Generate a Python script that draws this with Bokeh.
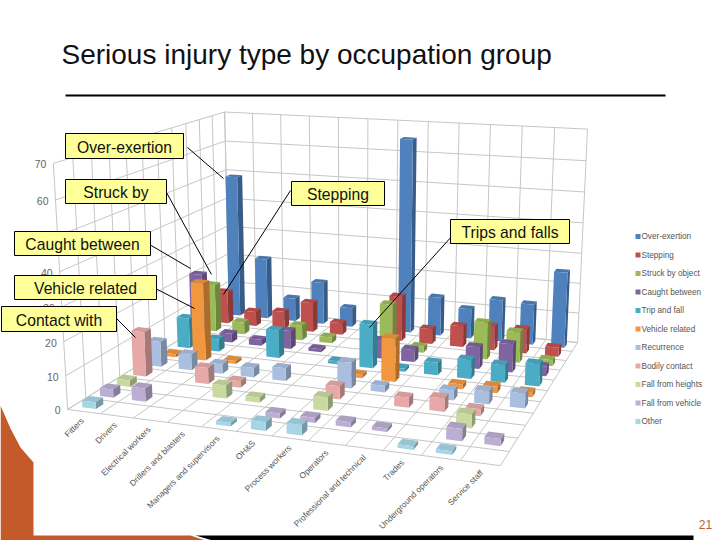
import numpy as np
from bokeh.plotting import figure
from bokeh.embed import file_html
from bokeh.resources import INLINE
from bokeh.core.properties import value

categories = ["Fitters", "Drivers", "Electrical workers", "Drillers and blasters",
              "Managers and supervisors", "OH&S", "Process workers", "Operators",
              "Professional and technical", "Trades", "Underground operators", "Service staff"]
series_names = ["Over-exertion", "Stepping", "Struck by object", "Caught between", "Trip and fall",
                "Vehicle related", "Recurrence", "Bodily contact", "Fall from heights",
                "Fall from vehicle", "Other"]
over_exertion = [49, 21, 8, 14.5, 6.5, 0, 65, 13, 10, 14, 13.5, 25]
stepping = [11, 5, 6, 10, 4, 0, 15, 5, 7, 8, 8, 3]
struck_by = [16, 4, 0, 5, 2, 0, 15, 2, 0, 12, 10, 2]
caught_between = [22, 3, 2, 6, 1, 0, 6, 4, 0, 7, 9, 3]
trip_fall = [10, 4, 0, 9, 0, 1, 14, 1, 4, 6, 5.5, 7]
vehicle_related = [1, 25, 1, 0, 0, 0, 1, 13.5, 0, 1.5, 2, 1.5]
recurrence = [8, 5, 3, 3, 4, 0, 8, 2, 0, 3, 4, 4.5]
bodily_contact = [14, 0, 5, 2, 0, 0, 4, 0, 3, 4, 2, 0]
fall_heights = [2, 0, 0, 4, 1.5, 0, 4, 0, 0, 0, 4, 0]
fall_vehicle = [2.5, 4, 0, 0, 0, 1.5, 1.5, 1.5, 1, 0, 3.5, 2]
other = [2, 0, 0, 0, 1, 2.5, 3, 0, 0, 1, 1, 0]
all_series = [over_exertion, stepping, struck_by, caught_between, trip_fall, vehicle_related,
              recurrence, bodily_contact, fall_heights, fall_vehicle, other]
colors = ["#4F81BD", "#C0504D", "#9BBB59", "#8064A2", "#4BACC6", "#F0973F",
          "#AABFDF", "#E6A9A8", "#C9DAA0", "#BBAED2", "#A6D5E6"]
z_ticks = [0, 10, 20, 30, 40, 50, 60, 70]

NC, NR, ZMAX = len(categories), len(series_names), z_ticks[-1]

# Camera calibration: cube corners -> page pixels
world = [(0, 0, 0), (NC, 0, 0), (0, NR, 0), (NC, NR, 0), (0, 0, ZMAX), (0, NR, ZMAX), (NC, NR, ZMAX)]
image = [(67, 408), (500, 466), (229, 309), (577, 341), (53, 163), (224, 111), (587, 129)]
A, b = [], []
for (X, Y, Z), (u, v) in zip(world, image):
    A.append([X, Y, Z, 1, 0, 0, 0, 0, -u * X, -u * Y, -u * Z]); b.append(u)
    A.append([0, 0, 0, 0, X, Y, Z, 1, -v * X, -v * Y, -v * Z]); b.append(v)
sol = np.linalg.lstsq(np.array(A, float), np.array(b, float), rcond=None)[0]
P = np.append(sol, 1.0).reshape(3, 4)


def proj(X, Y, Z):
    w = P @ np.array([X, Y, Z, 1.0])
    return float(w[0] / w[2]), float(w[1] / w[2])


def shade(c, f):
    r, g, bl = int(c[1:3], 16), int(c[3:5], 16), int(c[5:7], 16)
    return "#%02x%02x%02x" % (min(255, int(r * f)), min(255, int(g * f)), min(255, int(bl * f)))


p = figure(width=720, height=540, x_range=(0, 720), y_range=(540, 0),
           output_backend="svg", toolbar_location=None, min_border=0)
p.axis.visible = False
p.grid.visible = False
p.outline_line_color = None
p.background_fill_color = "white"
p.border_fill_color = "white"

# Slide decoration
p.patch([0, 10, 20, 33, 33, 190, 205, 0], [405, 428, 447, 462, 535, 535, 540, 540],
        fill_color="#C4592A", line_color=None)
p.patch([195, 693, 693, 212], [535, 535, 540, 540], fill_color="black", line_color=None)

# Title
p.text([61], [54], text=["Serious injury type by occupation group"], text_font=value("Liberation Sans"),
       text_font_size="28px", text_color="#111111", text_baseline="alphabetic")
p.line([65, 665], [95, 95], line_color="black", line_width=2)

# Grid
gx, gy = [], []


def seg(a, b):
    pa, pb = proj(*a), proj(*b)
    gx.append([pa[0], pb[0]])
    gy.append([pa[1], pb[1]])


for z in z_ticks:
    seg((0, 0, z), (0, NR, z))
    seg((0, NR, z), (NC, NR, z))
for c in range(NC + 1):
    seg((c, NR, 0), (c, NR, ZMAX))
    seg((c, 0, 0), (c, NR, 0))
for r in range(NR + 1):
    seg((0, r, 0), (0, r, ZMAX))
    seg((0, r, 0), (NC, r, 0))
p.multi_line(gx, gy, line_color="#C6C6C6", line_width=1)

# Axis labels
for z in z_ticks:
    u, v = proj(0, 0, z)
    p.text([u - 7], [v + 1], text=[str(z)], text_align="right", text_baseline="middle",
           text_font=value("Liberation Sans"), text_font_size="10.5px", text_color="#666666")
for i, name in enumerate(categories):
    u, v = proj(i + 0.5, -0.3, 0)
    p.text([u + 4], [v + 4], text=[name], text_align="right", text_baseline="middle", angle=np.pi / 4,
           text_font=value("Liberation Sans"), text_font_size="8.4px", text_color="#555555")

# Bars, painted from the back row to the front, left to right
BW = 0.42
xs, ys, fills = [], [], []
for r in range(NR):
    y0 = NR - r - 0.5 - BW / 2
    y1 = y0 + BW
    col = colors[r]
    for c, val in enumerate(all_series[r]):
        if val <= 0:
            continue
        x0 = c + 0.5 - BW / 2
        x1 = x0 + BW
        faces = [
            ([(x0, y0, val), (x1, y0, val), (x1, y1, val), (x0, y1, val)], shade(col, 0.92)),
            ([(x1, y0, 0), (x1, y1, 0), (x1, y1, val), (x1, y0, val)], shade(col, 0.72)),
            ([(x0, y0, 0), (x1, y0, 0), (x1, y0, val), (x0, y0, val)], col),
        ]
        for corners, fc in faces:
            pts = [proj(*q) for q in corners]
            xs.append([q[0] for q in pts])
            ys.append([q[1] for q in pts])
            fills.append(fc)
p.patches(xs, ys, fill_color=fills, line_color=None)

# Legend
for i, name in enumerate(series_names):
    ly = 236 + i * 18.5
    p.rect([637.5], [ly], width=5, height=5, fill_color=colors[i], line_color=None)
    p.text([641], [ly], text=[name], text_baseline="middle", text_font=value("Liberation Sans"),
           text_font_size="8.2px", text_color="#555555")

# Callouts
callouts = [("Over-exertion", 65, 133, 183, 158, 187, 147, 223, 178),
            ("Struck by", 65, 179, 166, 203, 166, 192, 211, 274),
            ("Caught between", 14, 231, 150, 255, 149, 244, 190, 268),
            ("Vehicle related", 14, 275, 156, 299, 153, 287, 194, 308),
            ("Contact with", 1, 306, 116, 331, 116, 318, 135, 337),
            ("Stepping", 291, 181, 384, 205, 290, 190, 223, 294),
            ("Trips and falls", 450, 219, 569, 243, 452, 235, 369, 327)]
for t, a, bb, cc, d, lx0, ly0, lx1, ly1 in callouts:
    p.line([lx0, lx1], [ly0, ly1], line_color="black", line_width=1)
    p.quad(left=[a], right=[cc], top=[bb], bottom=[d], fill_color="#FFFF99", line_color="black", line_width=1)
    p.text([(a + cc) / 2], [(bb + d) / 2 + 1], text=[t], text_align="center", text_baseline="middle",
           text_font=value("Liberation Sans"), text_font_size="15.7px", text_color="#111111")

p.text([705], [524], text=["21"], text_align="center", text_baseline="middle",
       text_font=value("Liberation Sans"), text_font_size="12px", text_color="#B5613A")

open("out.html", "w").write(file_html(p, INLINE))
